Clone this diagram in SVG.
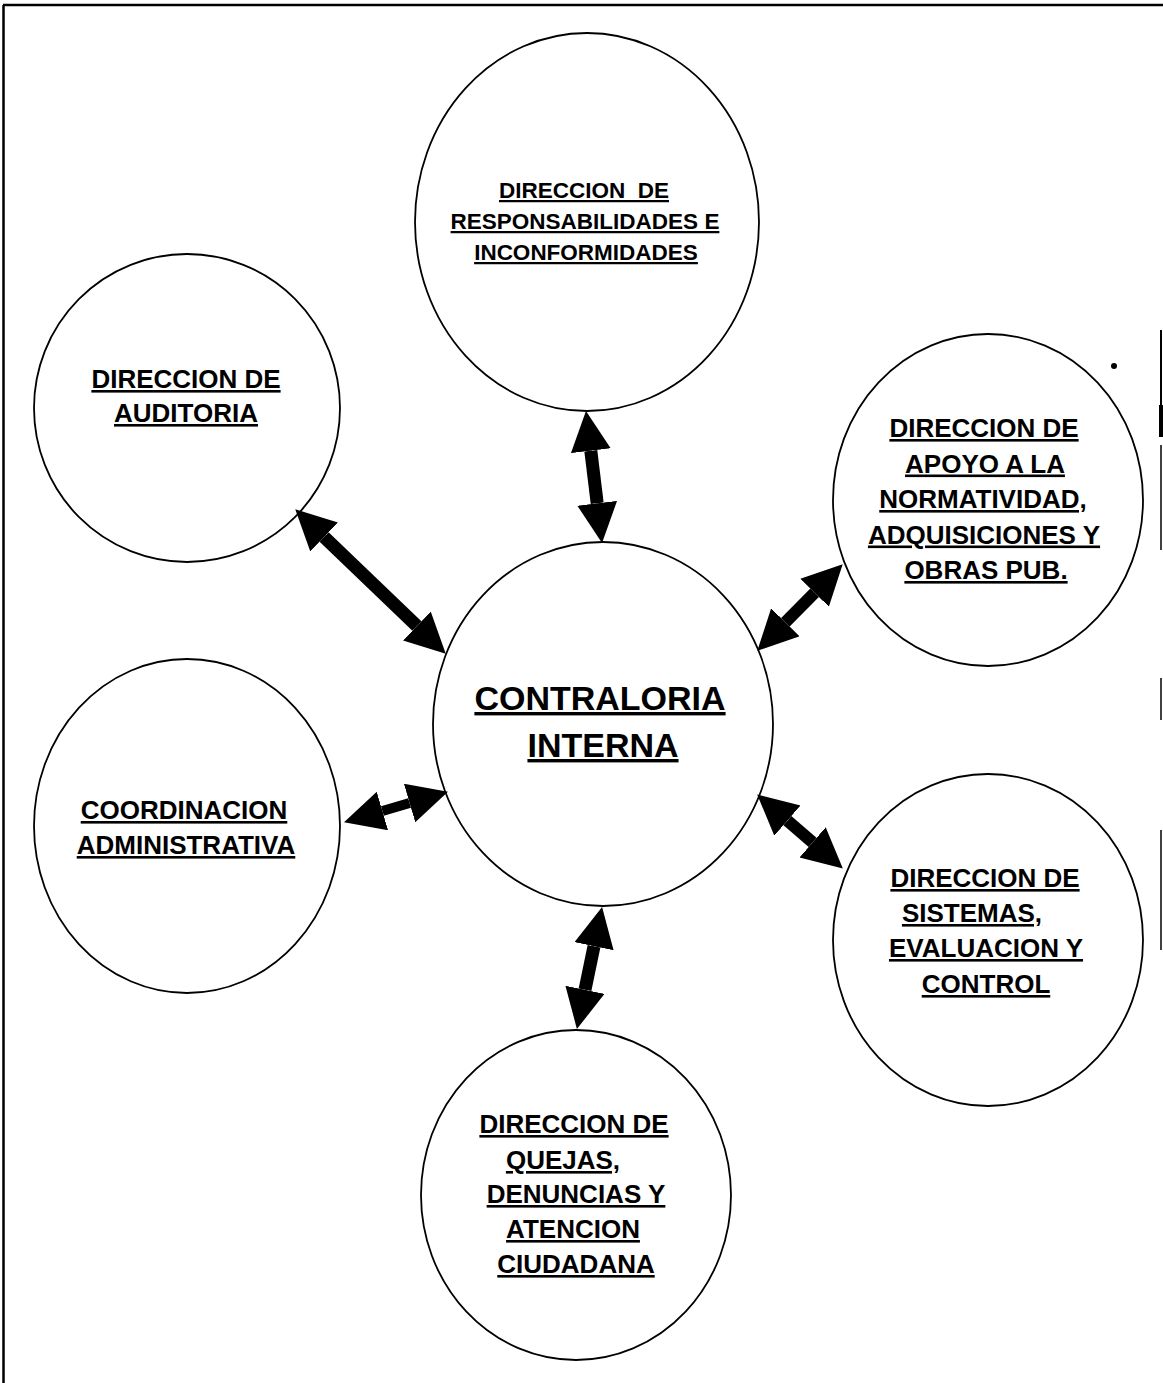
<svg xmlns="http://www.w3.org/2000/svg" width="1163" height="1383" viewBox="0 0 1163 1383">
<style>
.node ellipse{fill:none;stroke:#000;stroke-width:1.8}
.lbl{font-family:"Liberation Sans",Arial,sans-serif;font-weight:bold;font-size:26px;text-anchor:middle;text-decoration:underline;fill:#000}
.sm{font-size:22.5px}
.big{font-size:34px}
.conn line{stroke:#000;stroke-width:13;stroke-linecap:butt;marker-start:url(#head);marker-end:url(#head)}
.frame{stroke:#000;fill:none}
</style>
<defs>
<marker id="head" markerUnits="userSpaceOnUse" markerWidth="42" markerHeight="42" refX="0" refY="20" viewBox="0 0 42 42" orient="auto-start-reverse">
<path d="M0,0 L40,20 L0,40 Z" fill="#000"/>
</marker>
</defs>
<rect width="1163" height="1383" fill="#fff"/>
<g id="frame">
<line class="frame" x1="3" y1="5" x2="1163" y2="5" stroke-width="2.5"/>
<line class="frame" x1="3.5" y1="5" x2="3.5" y2="1383" stroke-width="2.5"/>
<line class="frame" x1="1161" y1="330" x2="1161" y2="437" stroke-width="2"/>
<line class="frame" x1="1161" y1="405" x2="1161" y2="437" stroke-width="4"/>
<line class="frame" x1="1161" y1="445" x2="1161" y2="550" stroke-width="1.5"/>
<line class="frame" x1="1161" y1="678" x2="1161" y2="720" stroke-width="1.5"/>
<line class="frame" x1="1161" y1="830" x2="1161" y2="950" stroke-width="1.5"/>
<circle cx="1114" cy="366" r="3" fill="#000"/>
</g>
<g class="conn" id="connectors">
<line x1="324.1" y1="537.0" x2="416.9" y2="626.0"/>
<line x1="590.8" y1="450.7" x2="597.2" y2="503.3"/>
<line x1="814.6" y1="592.7" x2="785.4" y2="622.3" style="stroke-width:12"/>
<line x1="382.4" y1="811.0" x2="409.6" y2="803.0" style="stroke-width:10"/>
<line x1="787.4" y1="820.6" x2="812.6" y2="842.4" style="stroke-width:12"/>
<line x1="594.0" y1="946.2" x2="585.0" y2="989.8"/>
</g>
<g class="node" id="n-responsabilidades">
<ellipse cx="587" cy="222" rx="172" ry="189"/>
<text class="lbl sm" x="584" y="198" xml:space="preserve">DIRECCION  DE</text>
<text class="lbl sm" x="585" y="229">RESPONSABILIDADES E</text>
<text class="lbl sm" x="586" y="260">INCONFORMIDADES</text>
</g>
<g class="node" id="n-auditoria">
<ellipse cx="187" cy="408" rx="153" ry="154"/>
<text class="lbl" x="186" y="388">DIRECCION DE</text>
<text class="lbl" x="186" y="422">AUDITORIA</text>
</g>
<g class="node" id="n-apoyo">
<ellipse cx="988" cy="500" rx="155" ry="166"/>
<text class="lbl" x="984" y="437">DIRECCION DE</text>
<text class="lbl" x="985" y="472.5">APOYO A LA</text>
<text class="lbl" x="983" y="508">NORMATIVIDAD,</text>
<text class="lbl" x="984" y="543.5">ADQUISICIONES Y</text>
<text class="lbl" x="986" y="579">OBRAS PUB.</text>
</g>
<g class="node" id="n-contraloria">
<ellipse cx="603" cy="724" rx="170" ry="182"/>
<text class="lbl big" x="600" y="710">CONTRALORIA</text>
<text class="lbl big" x="603" y="757">INTERNA</text>
</g>
<g class="node" id="n-coordinacion">
<ellipse cx="187" cy="826" rx="153" ry="167"/>
<text class="lbl" x="184" y="819">COORDINACION</text>
<text class="lbl" x="186" y="854">ADMINISTRATIVA</text>
</g>
<g class="node" id="n-sistemas">
<ellipse cx="988" cy="940" rx="155" ry="166"/>
<text class="lbl" x="985" y="887">DIRECCION DE</text>
<text class="lbl" x="972" y="922">SISTEMAS,</text>
<text class="lbl" x="986" y="957">EVALUACION Y</text>
<text class="lbl" x="986" y="993">CONTROL</text>
</g>
<g class="node" id="n-quejas">
<ellipse cx="576" cy="1195" rx="155" ry="165"/>
<text class="lbl" x="574" y="1133">DIRECCION DE</text>
<text class="lbl" x="563" y="1169">QUEJAS,</text>
<text class="lbl" x="576" y="1203">DENUNCIAS Y</text>
<text class="lbl" x="573" y="1238">ATENCION</text>
<text class="lbl" x="576" y="1273">CIUDADANA</text>
</g>
</svg>
